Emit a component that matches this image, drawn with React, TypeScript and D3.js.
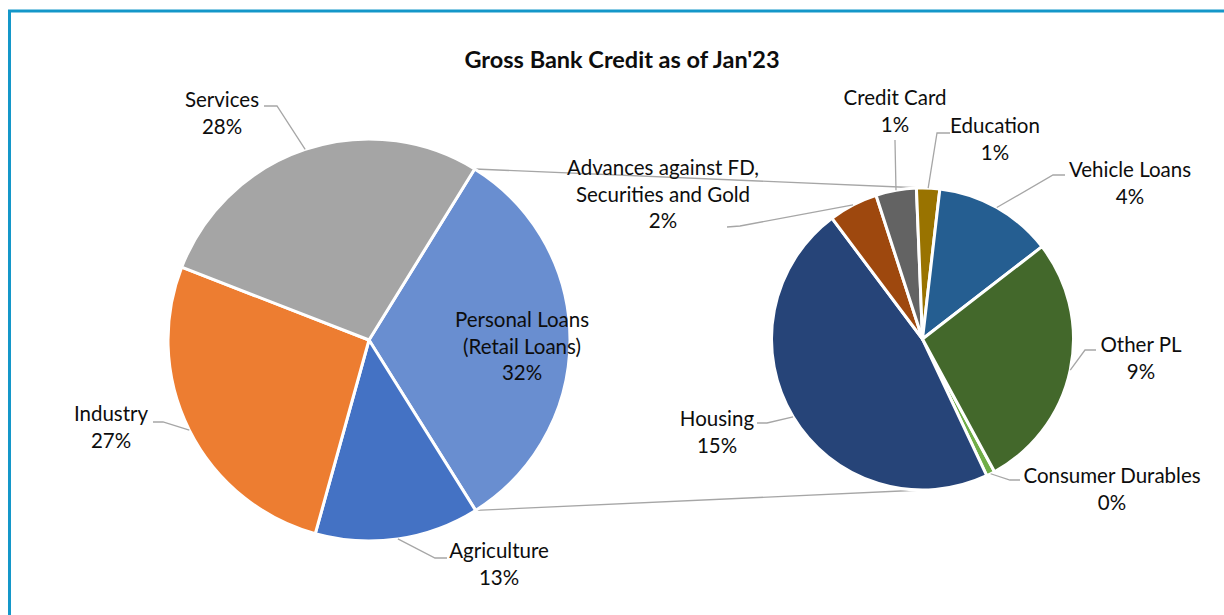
import React from "react";
import * as d3 from "d3";

// ---------- data ----------
const mainCategories = ["Personal Loans (Retail Loans)", "Agriculture", "Industry", "Services"];
const mainOtherValues = [13.2, 26.6, 27.9]; // Agriculture, Industry, Services (% of gross bank credit)
const subCategories = [
  "Consumer Durables",
  "Housing",
  "Advances against FD, Securities and Gold",
  "Credit Card",
  "Education",
  "Vehicle Loans",
  "Other PL",
];
const subValues = [0.3, 15.1, 1.7, 1.4, 0.8, 4.1, 8.9];
const titleText = "Gross Bank Credit as of Jan'23";

// ---------- styles / layout ----------
const W = 1224;
const H = 615;
const FONT = "Lato, 'Noto Sans', sans-serif";
const mainColors = ["#698ED0", "#4472C4", "#ED7D31", "#A5A5A5"];
const subColors = ["#70AD47", "#264478", "#9E480E", "#636363", "#997300", "#255E91", "#43682B"];

const main = { cx: 369, cy: 340, r: 201, start: 31.7 };
const sub = { cx: 922.5, cy: 339, r: 151, start: 151.5 };

// label layout: center x, first baseline y, lines, leader path points near label (null = inside)
type LabelLayout = { x: number; y: number; lines: string[]; leader: [number, number][] | null };
const mainLabelLayout: LabelLayout[] = [
  { x: 522, y: 327, lines: ["Personal Loans", "(Retail Loans)"], leader: null },
  { x: 499, y: 558, lines: ["Agriculture"], leader: [[447, 558], [435, 558]] },
  { x: 111, y: 421, lines: ["Industry"], leader: [[153, 422], [163, 422]] },
  { x: 222, y: 107, lines: ["Services"], leader: [[264, 106], [277, 106]] },
];
const subLabelLayout: LabelLayout[] = [
  { x: 1112, y: 483, lines: ["Consumer Durables"], leader: [[1020, 480], [1010, 480]] },
  { x: 717, y: 426, lines: ["Housing"], leader: [[757, 423], [767, 423]] },
  { x: 663, y: 175, lines: ["Advances against FD,", "Securities and Gold"], leader: [[727, 227], [740, 226]] },
  { x: 895, y: 105, lines: ["Credit Card"], leader: [[895, 140], [895, 141]] },
  { x: 995, y: 133, lines: ["Education"], leader: [[950, 133], [937, 133]] },
  { x: 1130, y: 177, lines: ["Vehicle Loans"], leader: [[1065, 175], [1053, 175]] },
  { x: 1141, y: 352, lines: ["Other PL"], leader: [[1096, 350], [1085, 350]] },
];
const LINE_H = 26.5;

const rad = (deg: number) => (deg * Math.PI) / 180;

function rimPoint(cx: number, cy: number, r: number, angle: number): [number, number] {
  return [cx + r * Math.sin(angle), cy - r * Math.cos(angle)];
}

export default function App() {
  const personalTotal = d3.sum(subValues);
  const mainValues = [personalTotal, ...mainOtherValues];
  const total = d3.sum(mainValues);

  const mainArcs = d3
    .pie<number>()
    .sort(null)
    .value((d) => d)
    .startAngle(rad(main.start))
    .endAngle(rad(main.start) + Math.PI * 2)(mainValues);

  const subArcs = d3
    .pie<number>()
    .sort(null)
    .value((d) => d)
    .startAngle(rad(sub.start))
    .endAngle(rad(sub.start) + Math.PI * 2)(subValues);

  const mainArc = d3.arc<d3.PieArcDatum<number>>().innerRadius(0).outerRadius(main.r);
  const subArc = d3.arc<d3.PieArcDatum<number>>().innerRadius(0).outerRadius(sub.r);

  const pct = (v: number) => `${Math.round((v / total) * 100)}%`;
  const line = d3.line();

  const pl = mainArcs[0];
  const topA = rimPoint(main.cx, main.cy, main.r, pl.startAngle);
  const botA = rimPoint(main.cx, main.cy, main.r, pl.endAngle);
  const topB: [number, number] = [sub.cx, sub.cy - sub.r];
  const botB: [number, number] = [sub.cx, sub.cy + sub.r];

  const renderLabel = (
    lay: LabelLayout,
    value: number,
    arc: d3.PieArcDatum<number>,
    cx: number,
    cy: number,
    r: number,
    key: string
  ) => {
    const mid = (arc.startAngle + arc.endAngle) / 2;
    const rim = rimPoint(cx, cy, r, mid);
    const lines = [...lay.lines, pct(value)];
    return (
      <g key={key}>
        {lay.leader && (
          <path
            d={line([...lay.leader, rim]) || ""}
            fill="none"
            stroke="#A6A6A6"
            strokeWidth={1.3}
          />
        )}
        <text x={lay.x} y={lay.y} textAnchor="middle" fontFamily={FONT} fontSize={20.5} fill="#0D0D0D">
          {lines.map((t, i) => (
            <tspan key={i} x={lay.x} y={lay.y + i * LINE_H}>
              {t}
            </tspan>
          ))}
        </text>
      </g>
    );
  };

  return (
    <svg
      width={W}
      height={H}
      style={{ position: "absolute", left: 0, top: 0, background: "#fff" }}
    >
      <rect x={0} y={0} width={W} height={H} fill="#fff" />
      <rect x={9.5} y={11} width={W + 100} height={H + 100} fill="none" stroke="#1497C9" strokeWidth={3} />
      <text
        x={622}
        y={68}
        textAnchor="middle"
        fontFamily={FONT}
        fontWeight="bold"
        fontSize={23.5}
        fill="#0D0D0D"
      >
        {titleText}
      </text>

      {/* connector lines */}
      <path d={line([topA, topB]) || ""} stroke="#A6A6A6" strokeWidth={1.3} fill="none" />
      <path d={line([botA, botB]) || ""} stroke="#A6A6A6" strokeWidth={1.3} fill="none" />

      <g transform={`translate(${main.cx},${main.cy})`}>
        {mainArcs.map((a, i) => (
          <path key={mainCategories[i]} d={mainArc(a) || ""} fill={mainColors[i]} stroke="#fff" strokeWidth={3} strokeLinejoin="round" />
        ))}
      </g>
      <g transform={`translate(${sub.cx},${sub.cy})`}>
        {subArcs.map((a, i) => (
          <path key={subCategories[i]} d={subArc(a) || ""} fill={subColors[i]} stroke="#fff" strokeWidth={3} strokeLinejoin="round" />
        ))}
      </g>

      {mainArcs.map((a, i) =>
        renderLabel(mainLabelLayout[i], mainValues[i], a, main.cx, main.cy, main.r, "m" + i)
      )}
      {subArcs.map((a, i) =>
        renderLabel(subLabelLayout[i], subValues[i], a, sub.cx, sub.cy, sub.r, "s" + i)
      )}
    </svg>
  );
}
